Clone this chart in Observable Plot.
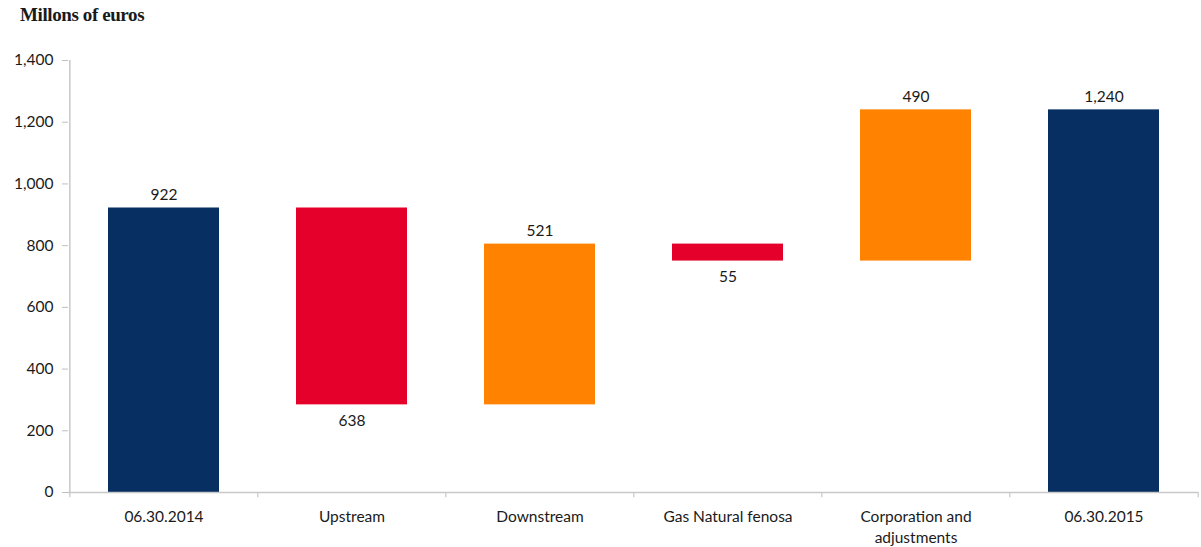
<!DOCTYPE html>
<html>
<head>
<meta charset="utf-8">
<script src="https://cdn.jsdelivr.net/npm/d3@7"></script>
<script src="https://cdn.jsdelivr.net/npm/@observablehq/plot@0.6"></script>
<style>
  html, body { margin: 0; padding: 0; background: #fff; }
  #wrap { position: relative; width: 1201px; height: 547px; }
  #title { position: absolute; left: 20px; top: 4px; font-family: "Liberation Serif", "DejaVu Serif", serif; font-weight: bold; font-size: 19px; color: #1a1a1a; letter-spacing: -0.4px; }
</style>
</head>
<body>
<div id="wrap">
  <div id="title">Millons of euros</div>
  <div id="chart"></div>
</div>
<script>
const categories = ["06.30.2014", "Upstream", "Downstream", "Gas Natural fenosa", "Corporation and\nadjustments", "06.30.2015"];
const changes = [922, -638, 521, -55, 490, 1240];
const kinds = ["total", "decrease", "increase", "decrease", "increase", "total"];
const valueLabels = ["922", "638", "521", "55", "490", "1,240"];
const yTicks = [0, 200, 400, 600, 800, 1000, 1200, 1400];

const colors = { total: "#072f62", decrease: "#e4002b", increase: "#ff8200" };

let running = 0;
const rows = categories.map((c, i) => {
  let y1, y2;
  if (kinds[i] === "total") { y1 = 0; y2 = changes[i]; running = changes[i]; }
  else { y1 = running; y2 = running + changes[i]; running = y2; }
  return { cat: c, y1, y2, kind: kinds[i], label: valueLabels[i], top: Math.max(y1, y2), bottom: Math.min(y1, y2), below: kinds[i] === "decrease" };
});

const W = 1201, H = 547, mL = 68, mR = 3;
const step = (W - mL - mR) / categories.length;
const font = "Lato, 'Open Sans', sans-serif";
const fs = 15.5;

const chart = Plot.plot({
  width: W, height: H,
  marginTop: 60, marginBottom: 55, marginLeft: mL, marginRight: mR,
  style: { fontFamily: font, fontSize: fs + "px", color: "#1a1a1a", background: "transparent" },
  x: { domain: categories, paddingInner: 0.41, paddingOuter: 0.205, align: 0.5, label: null },
  y: { domain: [0, 1400], label: null },
  marks: [
    Plot.axisY({ ticks: yTicks, tickFormat: d3.format(","), tickSize: 6, tickPadding: 9, stroke: "#bfbfbf", fill: "#1a1a1a", fontSize: fs }),
    Plot.axisX({ tickSize: 0, tickPadding: 15, fontSize: fs, fill: "#1a1a1a", lineHeight: 1.35 }),
    Plot.barY(rows, { x: "cat", y1: "y1", y2: "y2", fill: d => colors[d.kind] }),
    Plot.ruleY([0], { stroke: "#c8c8c8", strokeWidth: 1.5 }),
    Plot.ruleX([categories[0]], { y1: 0, y2: 1400, dx: -step / 2, stroke: "#c8c8c8", strokeWidth: 1.5 }),
    Plot.ruleX(categories, { y1: 0, y2: -17, dx: -step / 2, stroke: "#c8c8c8", strokeWidth: 1.2 }),
    Plot.ruleX([categories[categories.length - 1]], { y1: 0, y2: -17, dx: step / 2, stroke: "#c8c8c8", strokeWidth: 1.2 }),
    Plot.text(rows.filter(d => !d.below), { x: "cat", y: "top", text: "label", dy: -13, fontSize: fs, fill: "#1a1a1a" }),
    Plot.text(rows.filter(d => d.below), { x: "cat", y: "bottom", text: "label", dy: 16, fontSize: fs, fill: "#1a1a1a" })
  ]
});
document.getElementById("chart").appendChild(chart);
</script>
</body>
</html>
